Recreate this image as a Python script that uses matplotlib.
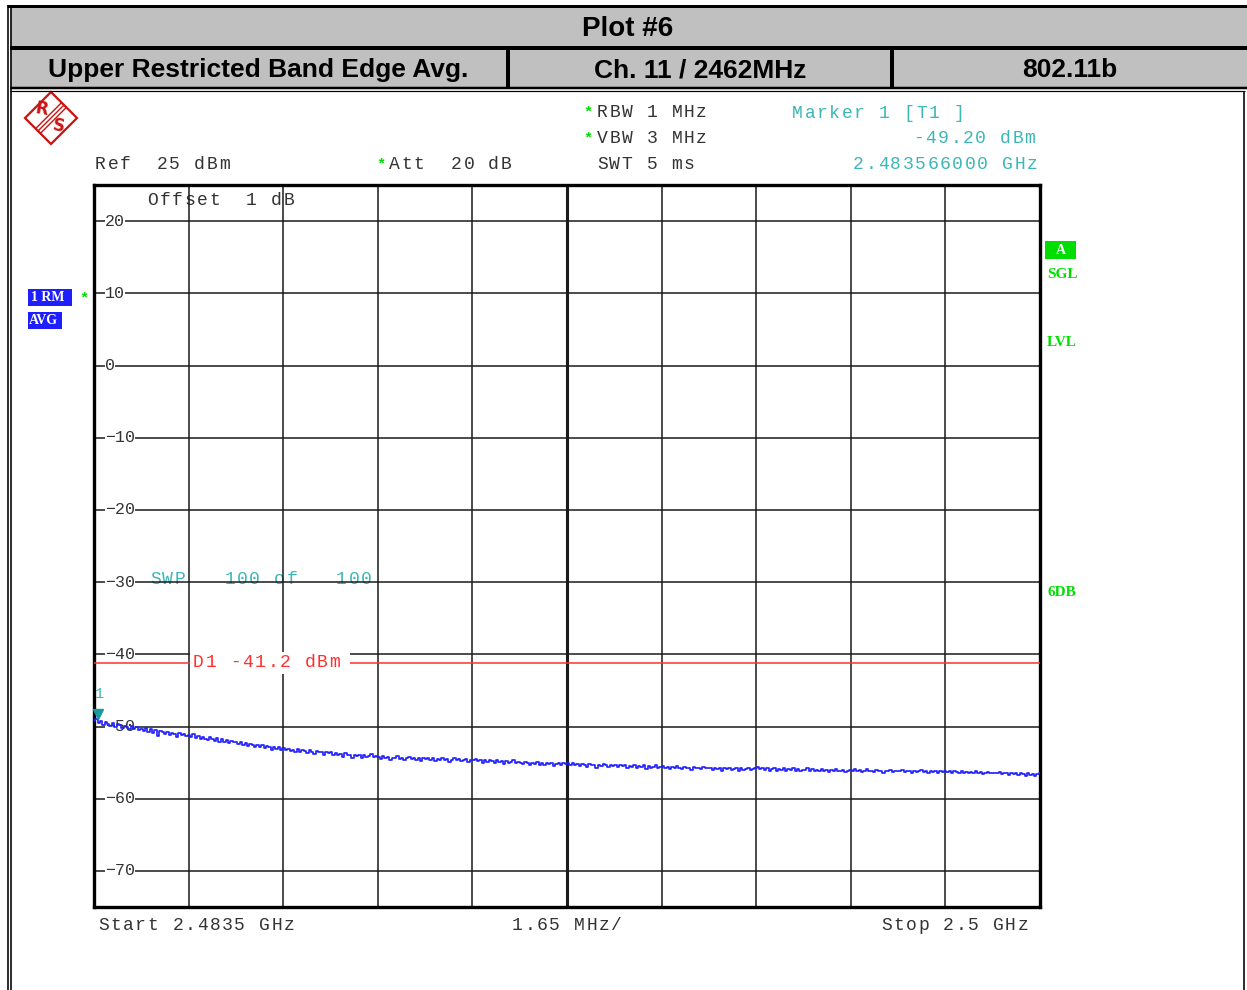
import numpy as np
import matplotlib
matplotlib.use("Agg")
import matplotlib.pyplot as plt
from matplotlib.patches import Rectangle, Polygon
from matplotlib.transforms import offset_copy

# sweep settings
f_start = 2.4835  # GHz
f_stop = 2.5      # GHz
ref_level = 25
y_bottom = -75
grid_levels = [20, 10, 0, -10, -20, -30, -40, -50, -60, -70]
display_line = -41.2
marker_freq = 2.483566
marker_level = -49.20

# trace (dBm), 200 points over the span
trace = [
    -49.2, -48.9, -49.5, -49.3, -49.8, -49.4, -49.6, -49.9, -49.5, -50.1, -49.7, -49.8, -50.2, -49.9, -50.0, -50.4, -49.9, -50.3, -50.1, -50.5,
    -50.3, -50.6, -50.2, -50.7, -50.4, -50.9, -50.5, -51.3, -50.6, -50.8, -51.0, -50.7, -51.2, -50.9, -51.1, -51.4, -50.9, -51.2, -51.0, -51.3,
    -51.2, -51.5, -51.1, -51.6, -51.3, -51.8, -51.4, -51.7, -51.9, -51.5, -51.8, -52.0, -51.6, -52.1, -51.8, -52.2, -51.9, -52.3, -52.0, -52.2,
    -52.1, -52.4, -52.2, -52.6, -52.3, -52.7, -52.4, -52.6, -52.9, -52.5, -52.8, -52.6, -53.0, -52.7, -52.9, -53.2, -52.8, -53.1, -52.9, -53.2,
    -53.0, -53.3, -53.1, -53.4, -53.2, -53.5, -53.1, -53.6, -53.3, -53.4, -53.7, -53.3, -53.5, -53.8, -53.4, -53.6, -53.5, -53.9, -53.5, -53.7,
    -53.6, -53.9, -53.7, -54.0, -53.8, -54.2, -53.7, -54.0, -53.9, -54.3, -53.9, -54.1, -54.0, -54.4, -54.0, -54.2, -54.1, -53.8, -54.2, -54.1,
    -54.2, -54.5, -54.1, -54.3, -54.2, -54.6, -54.3, -54.4, -54.1, -54.5, -54.3, -54.7, -54.4, -54.2, -54.5, -54.3, -54.6, -54.4, -54.8, -54.4,
    -54.5, -54.3, -54.6, -54.4, -54.8, -54.5, -54.6, -54.3, -54.7, -54.5, -54.9, -54.6, -54.4, -54.7, -54.5, -54.8, -54.6, -54.5, -54.9, -54.6,
    -54.7, -54.5, -54.8, -54.6, -55.0, -54.7, -54.9, -54.6, -54.8, -55.1, -54.7, -54.9, -54.8, -55.2, -54.8, -55.0, -54.9, -54.7, -55.1, -54.9,
    -55.0, -55.2, -54.9, -55.1, -55.3, -55.0, -55.2, -54.9, -55.3, -55.1, -55.4, -55.0, -55.2, -55.1, -55.5, -55.2, -55.0, -55.3, -55.1, -55.2,
    -55.1, -55.3, -55.0, -55.4, -55.2, -55.5, -55.2, -55.3, -55.6, -55.2, -55.4, -55.3, -55.7, -55.3, -55.5, -55.2, -55.4, -55.6, -55.3, -55.5,
    -55.4, -55.6, -55.3, -55.5, -55.4, -55.8, -55.5, -55.6, -55.3, -55.7, -55.5, -55.6, -55.4, -55.9, -55.5, -55.7, -55.6, -55.4, -55.8, -55.6,
    -55.5, -55.7, -55.6, -55.9, -55.6, -55.8, -55.5, -55.7, -55.9, -55.6, -55.8, -55.7, -56.0, -55.6, -55.8, -55.7, -55.9, -55.6, -55.8, -55.7,
    -55.8, -56.0, -55.7, -55.9, -55.8, -56.1, -55.7, -55.9, -55.8, -56.0, -55.9, -55.7, -56.1, -55.8, -56.0, -55.9, -55.7, -56.0, -55.9, -55.8,
    -55.6, -55.9, -55.8, -56.0, -55.7, -56.1, -55.9, -55.8, -56.2, -55.9, -56.0, -55.8, -56.1, -55.9, -56.0, -55.7, -56.1, -55.9, -56.2, -56.0,
    -56.0, -55.8, -56.1, -55.9, -56.2, -56.0, -56.1, -55.9, -56.2, -56.0, -56.3, -56.0, -56.1, -55.9, -56.2, -56.1, -56.0, -56.3, -56.1, -56.0,
    -56.1, -55.9, -56.2, -56.0, -56.3, -56.1, -55.9, -56.2, -56.1, -56.3, -56.0, -56.2, -56.1, -56.4, -56.1, -56.2, -56.0, -56.3, -56.2, -56.1,
    -56.2, -56.0, -56.3, -56.1, -56.2, -56.4, -56.1, -56.3, -56.2, -56.0, -56.3, -56.2, -56.4, -56.1, -56.3, -56.2, -56.5, -56.2, -56.3, -56.2,
    -56.3, -56.1, -56.4, -56.2, -56.3, -56.5, -56.2, -56.4, -56.3, -56.5, -56.3, -56.4, -56.2, -56.5, -56.3, -56.6, -56.4, -56.3, -56.5, -56.4,
    -56.4, -56.5, -56.3, -56.6, -56.4, -56.5, -56.7, -56.4, -56.6, -56.5, -56.7, -56.5, -56.6, -56.8, -56.5, -56.7, -56.6, -56.8, -56.6, -56.5,
]

header_title = "Plot #6"
header_cells = ["Upper Restricted Band Edge Avg.", "Ch. 11 / 2462MHz", "802.11b"]

W, H = 1247, 990
GRAY_TXT = "#333333"
TEAL = "#3cb6b6"
GREEN = "#00dd00"
BLUE = "#1e1eff"
RED = "#ff3030"
MONO = ["Liberation Mono", "DejaVu Sans Mono"]

fig = plt.figure(figsize=(W / 100, H / 100), dpi=100)
fig.patch.set_facecolor("white")

# pixel-space overlay for the frame and the header
deco = fig.add_axes([0, 0, 1, 1], zorder=0)
deco.set_xlim(0, W)
deco.set_ylim(H, 0)
deco.axis("off")

ax = fig.add_axes([94 / W, (H - 907) / H, 946 / W, 722 / H], zorder=1)
ax.patch.set_alpha(0)


def px(x, y):
    return x / W, 1 - y / H


def mono(tgt, x, y, s, color=GRAY_TXT, size=13, pitch=12.4, zorder=5):
    # instrument font has a wide fixed pitch, so place char by char;
    # y is the visual middle of the capitals, glyphs sit on a common baseline
    for i, ch in enumerate(s):
        if ch == " ":
            continue
        fx, fy = px(x + i * pitch, y + 5)
        tgt.text(fx, fy, ch, transform=fig.transFigure, ha="left", va="baseline",
                 fontsize=size, color=color, zorder=zorder, family=MONO)


def star(x, y):
    fx, fy = px(x, y)
    deco.text(fx, fy, "*", transform=fig.transFigure, ha="left", va="center",
              fontsize=11, color=GREEN, family=MONO, fontweight="bold")


def px_line(x0, y0, x1, y1, lw, color="black"):
    deco.plot([x0, x1], [y0, y1], color=color, lw=lw * 0.72, solid_capstyle="butt")


# ---- header ----
deco.add_patch(Rectangle((10, 7), W - 10, 81, facecolor="#c0c0c0", edgecolor="none"))
px_line(7, 6, W, 6, 3)
px_line(10, 47.5, W, 47.5, 4)
px_line(10, 88, W, 88, 2.5)
px_line(10, 91, 1245, 91, 1.2)
px_line(508, 47, 508, 88, 4)
px_line(892, 47, 892, 88, 4)
px_line(7.5, 5, 7.5, H, 1.6)
px_line(10.5, 5, 10.5, H, 1.6)
px_line(1244, 91, 1244, H, 1.6)

hfont = ["Liberation Sans", "DejaVu Sans"]
deco.text(628, 29, header_title, ha="center", va="center", fontsize=20,
          fontweight="bold", family=hfont)
for cx, label in zip([258, 700, 1070], header_cells):
    deco.text(cx, 70, label, ha="center", va="center", fontsize=19,
              fontweight="bold", family=hfont)

# ---- R&S logo ----
cx, cy, r = 51, 118, 26
logo_red = "#cc1111"
deco.add_patch(Polygon([(cx, cy - r), (cx + r, cy), (cx, cy + r), (cx - r, cy)],
                       closed=True, fill=False, edgecolor=logo_red, lw=1.6))
for off in (-2.4, 0, 2.4):
    deco.plot([cx - 13 + off, cx + 13 + off], [cy + 13 + off, cy - 13 + off],
              color=logo_red, lw=1.0)
deco.text(cx - 9, cy - 9, "R", color=logo_red, fontsize=12, ha="center",
          va="center", rotation=-10, family=["DejaVu Sans"], fontweight="bold")
deco.text(cx + 8, cy + 8, "S", color=logo_red, fontsize=12, ha="center",
          va="center", rotation=-10, family=["DejaVu Sans"], fontweight="bold")

# ---- settings text ----
star(583, 112)
mono(deco, 597, 112, "RBW 1 MHz")
star(583, 138)
mono(deco, 597, 138, "VBW 3 MHz")
mono(deco, 597, 164, "SWT 5 ms")
mono(deco, 95, 164, "Ref  25 dBm")
star(376, 164)
mono(deco, 389, 164, "Att  20 dB")
mono(deco, 792, 113, "Marker 1 [T1 ]", color=TEAL)
mono(deco, 913, 138, "-49.20 dBm", color=TEAL)
mono(deco, 853, 164, "2.483566000 GHz", color=TEAL)
mono(deco, 98, 925, "Start 2.4835 GHz")
mono(deco, 512, 925, "1.65 MHz/")
mono(deco, 881, 925, "Stop 2.5 GHz")

# left / right status boxes
bfont = ["Liberation Serif", "DejaVu Serif"]
deco.add_patch(Rectangle((28, 289), 44, 17, facecolor=BLUE, edgecolor="none"))
deco.text(31, 297.5, "1 RM", color="white", fontsize=10, fontweight="bold",
          va="center", family=bfont)
deco.add_patch(Rectangle((28, 312), 34, 17, facecolor=BLUE, edgecolor="none"))
deco.text(29, 320.5, "AVG", color="white", fontsize=10, fontweight="bold",
          va="center", family=bfont)
star(79, 298)

deco.add_patch(Rectangle((1045, 241), 31, 18, facecolor=GREEN, edgecolor="none"))
deco.text(1060.5, 251, "A", color="white", fontsize=10, fontweight="bold",
          ha="center", va="center", family=bfont)
for yy, lab in [(274, "SGL"), (342, "LVL"), (592, "6DB")]:
    deco.text(1047, yy, lab, color=GREEN, fontsize=11, fontweight="bold",
              va="center", family=bfont)

# ---- screen ----
freqs = np.linspace(f_start, f_stop, len(trace))
ax.set_xlim(f_start, f_stop)
ax.set_ylim(y_bottom, ref_level)
ax.set_xticks([])
ax.set_yticks([])
for sp in ax.spines.values():
    sp.set_linewidth(2.4)
    sp.set_color("black")

div_freqs = np.linspace(f_start, f_stop, 11)[1:-1]
for i, f in enumerate(div_freqs):
    ax.axvline(f, color="#1a1a1a", lw=2.2 if i == 4 else 1.1, zorder=2)
for lv in grid_levels:
    ax.axhline(lv, color="#1a1a1a", lw=1.1, zorder=2)
    lab = str(lv).replace("-", "\u2212")
    ax.text(0.0118, lv, lab, transform=ax.get_yaxis_transform(), ha="left",
            va="center", fontsize=12, color=GRAY_TXT, zorder=4, family=MONO,
            bbox=dict(facecolor="white", edgecolor="none", pad=0.3))

mono(ax, 147, 200, "Offset  1 dB", zorder=1)
mono(ax, 150, 579, "SWP   100 of   100", color=TEAL, zorder=1)

# display line D1
ax.axhline(display_line, color=RED, lw=1.1, zorder=4.5)
ax.add_patch(Rectangle(((190 - 94) / 946, display_line - 1.5), 160 / 946, 3.0,
                       transform=ax.get_yaxis_transform(), facecolor="white",
                       edgecolor="none", zorder=4.6))
mono(ax, 193, 662, "D1 -41.2 dBm", color=RED, zorder=5)

ax.step(freqs, trace, where="mid", color=BLUE, lw=1.2, zorder=5)

# marker 1
mk_tr = offset_copy(ax.transData, fig=fig, y=5, units="points")
ax.plot([marker_freq], [marker_level], marker="v", color="#1a9a9a",
        markersize=7, transform=mk_tr, zorder=6, clip_on=False)
ax.annotate("1", xy=(marker_freq, marker_level), xytext=(1.5, 19),
            textcoords="offset points", ha="center", va="center",
            fontsize=11, color=TEAL, family=MONO, zorder=6)

fig.savefig("out.png", dpi=100)
